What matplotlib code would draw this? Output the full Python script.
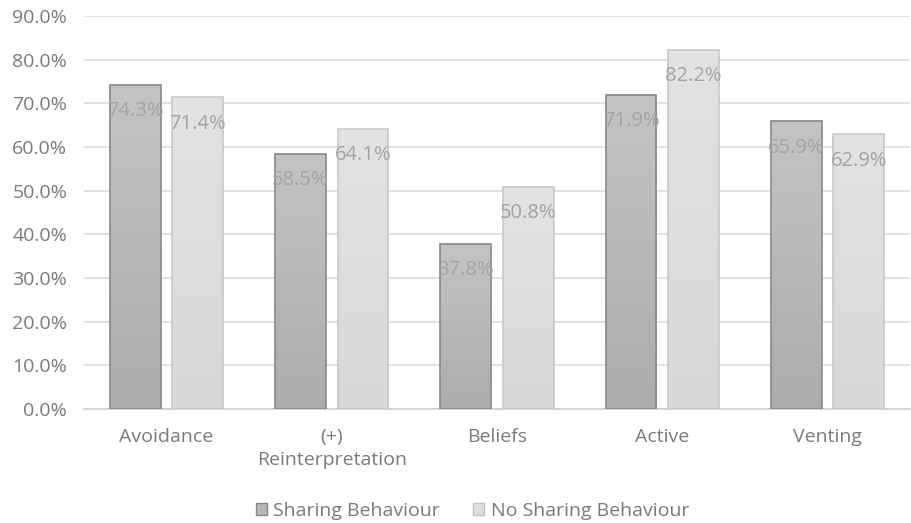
import matplotlib
matplotlib.use("Agg")
import matplotlib.pyplot as plt
import numpy as np
from matplotlib.patches import Rectangle, Patch

categories = ["Avoidance", "(+)\nReinterpretation", "Beliefs", "Active", "Venting"]
sharing = [74.3, 58.5, 37.8, 71.9, 65.9]
no_sharing = [71.4, 64.1, 50.8, 82.2, 62.9]
series_names = ["Sharing Behaviour", "No Sharing Behaviour"]
yticks = [0, 10, 20, 30, 40, 50, 60, 70, 80, 90]

plt.rcParams['font.family'] = ['Open Sans', 'DejaVu Sans']
fig = plt.figure(figsize=(9.12, 5.23), dpi=100)
ax = fig.add_axes([0.092, 0.218, 0.906, 0.751])

x = np.arange(len(categories))
bw = 0.307
gap = 0.072
off = (bw + gap) / 2

def grad_bars(xs, vals, top_c, bot_c, edge, label):
    bars = ax.bar(xs, vals, bw, color='none', edgecolor=edge, linewidth=1.2, zorder=3, label=label)
    top = np.array(matplotlib.colors.to_rgb(top_c))
    bot = np.array(matplotlib.colors.to_rgb(bot_c))
    for b in bars:
        x0, y0 = b.get_x(), b.get_y()
        w, h = b.get_width(), b.get_height()
        t = np.linspace(0, 1, 256)[:, None]
        img = (bot * (1 - t) + top * t)[:, None, :]
        im = ax.imshow(img, extent=[x0, x0 + w, y0, y0 + h], origin='lower',
                       aspect='auto', zorder=2, interpolation='bilinear')
        im.set_clip_path(Rectangle((x0, y0), w, h, transform=ax.transData))
    return bars

grad_bars(x - off, sharing, '#c4c4c4', '#acacac', '#888888', series_names[0])
grad_bars(x + off, no_sharing, '#e3e3e3', '#d8d8d8', '#c8c8c8', series_names[1])

for xs, vals in ((x - off, sharing), (x + off, no_sharing)):
    for xi, v in zip(xs, vals):
        ax.text(xi, v - 6.0, f"{v:.1f}%", ha='center', va='center', fontsize=14.5,
                color='#a3a3a3', zorder=4)

ax.set_xlim(-0.5, len(categories) - 0.5)
ax.set_ylim(0, 90)
ax.set_yticks(yticks)
ax.set_yticklabels([f"{v:.1f}%" for v in yticks])
ax.set_xticks(x)
ax.set_xticklabels(categories, linespacing=1.35)
ax.tick_params(axis='both', length=0, labelsize=14, labelcolor='#7a7a7a')
ax.tick_params(axis='y', pad=12)
ax.tick_params(axis='x', pad=14)
ax.grid(axis='y', color='#dcdcdc', linewidth=1.2, zorder=0)
ax.set_axisbelow(True)
for s in ['top', 'right', 'left']:
    ax.spines[s].set_visible(False)
ax.spines['bottom'].set_color('#d0d0d0')
ax.spines['bottom'].set_linewidth(1.2)

handles = [Patch(facecolor='#b8b8b8', edgecolor='#888888'),
           Patch(facecolor='#dedede', edgecolor='#c0c0c0')]
leg = fig.legend(handles, series_names, loc='center', bbox_to_anchor=(0.518, 0.023),
                 ncol=2, frameon=False, fontsize=14, handlelength=0.55, handleheight=0.55,
                 columnspacing=1.7, handletextpad=0.35)
for t in leg.get_texts():
    t.set_color('#7a7a7a')

fig.savefig("out.png", dpi=100)
